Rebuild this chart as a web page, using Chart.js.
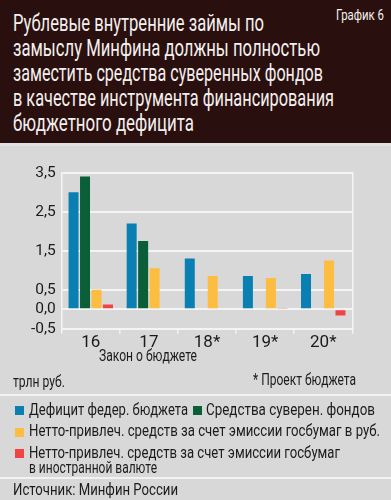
<!DOCTYPE html>
<html lang="ru">
<head>
<meta charset="utf-8">
<script src="https://cdn.jsdelivr.net/npm/chart.js@4.4.1/dist/chart.umd.min.js"></script>
<style>
  html, body { margin: 0; padding: 0; }
  body {
    width: 391px; height: 500px; position: relative; overflow: hidden;
    background: #d8d8d8;
    font-family: Roboto, 'DejaVu Sans Condensed', sans-serif;
    color: #1b1b1b;
  }
  .abs { position: absolute; }
  .txt { position: absolute; white-space: nowrap; line-height: 1; transform-origin: 0 0; }
  #head { left: 0; top: 0; width: 391px; height: 143px; background: #2a0f0f; }
  #strip { left: 0; top: 143px; width: 391px; height: 3px; background: #e2e2e2; }
  #chartBox { left: 0; top: 150px; width: 391px; height: 215px; }
  .sep { left: 0; width: 391px; height: 2px; background: #f2f2f2; }
  .sw { position: absolute; width: 9px; height: 9px; }
</style>
</head>
<body>
<div id="head" class="abs"></div>
<div id="strip" class="abs"></div>
<div id="chartBox" class="abs"><canvas id="chart"></canvas></div>
<div class="abs sep" style="top:394px"></div>
<div class="abs sep" style="top:477px"></div>

<script>
'use strict';

// Budget laws (* = draft)
const categories = ['16', '17', '18*', '19*', '20*'];
const yTicks = [-0.5, 0, 0.5, 1.5, 2.5, 3.5];

// trillion rubles
const deficit   = [3.0, 2.2, 1.3, 0.85, 0.9];
const sovereign = [3.4, 1.75, null, null, null];
const rubBonds  = [0.5, 1.05, 0.85, 0.8, 1.25];
const fxBonds   = [0.12, -0.03, -0.03, 0.02, -0.16];

const seriesNames = [
  'Дефицит федер. бюджета',
  'Средства суверен. фондов',
  'Нетто-привлеч. средств за счет эмиссии госбумаг в руб.',
  'Нетто-привлеч. средств за счет эмиссии госбумаг',
  'в иностранной валюте'
];
const titleLines = [
  'Рублевые внутренние займы по',
  'замыслу Минфина должны полностью',
  'заместить средства суверенных фондов',
  'в качестве инструмента финансирования',
  'бюджетного дефицита'
];
const colors = ['#0a80b2', '#0a5f38', '#fcbd40', '#f04444'];

const FONT = "Roboto, 'DejaVu Sans Condensed', sans-serif";
const INK = '#1b1b1b';

// text placed by left x, baseline y, font size and width it should span
function place(text, x, base, size, width, color) {
  const el = document.createElement('div');
  el.className = 'txt';
  el.textContent = text;
  el.style.fontSize = size + 'px';
  el.style.left = x + 'px';
  el.style.top = (base - 0.842 * size) + 'px';
  if (color) el.style.color = color;
  document.body.appendChild(el);
  const w = el.getBoundingClientRect().width;
  if (width && w) el.style.transform = `scaleX(${width / w})`;
  return el;
}
function swatch(i, x, y) {
  const el = document.createElement('div');
  el.className = 'sw';
  el.style.left = x + 'px';
  el.style.top = y + 'px';
  el.style.background = colors[i];
  document.body.appendChild(el);
}

const titleW = [251, 307, 310, 321, 181];
titleLines.forEach((t, i) => place(t, 12.5, 31.7 + i * 25, 24.5, titleW[i], '#f3f0ee'));
place('График 6', 336, 20.7, 14.8, 48, '#f3f0ee');

place('Закон о бюджете', 99, 361, 16, 98);
place('трлн руб.', 13, 387.3, 16, 52);
place('* Проект бюджета', 253, 385, 16, 103);

swatch(0, 15, 406); place(seriesNames[0], 29, 415.3, 17, 159);
swatch(1, 193, 406); place(seriesNames[1], 206, 415.3, 17, 169);
swatch(2, 15, 427.5); place(seriesNames[2], 29, 436.7, 17, 351);
swatch(3, 15, 449); place(seriesNames[3], 29, 458.3, 17, 311);
place(seriesNames[4], 29, 473.5, 17, 128);

place('Источник: Минфин России', 13, 495.7, 16.5, 165);

const datasets = [deficit, sovereign, rubBonds, fxBonds].map((data, i) => ({
  label: seriesNames[i],
  data,
  backgroundColor: colors[i],
  borderWidth: 0,
  barPercentage: 0.87,
  categoryPercentage: 0.79
}));

new Chart(document.getElementById('chart'), {
  type: 'bar',
  data: { labels: categories, datasets },
  options: {
    responsive: true, maintainAspectRatio: false, animation: false,
    layout: { padding: { top: 22.7, right: 38.7, left: 0, bottom: 0 } },
    plugins: { legend: { display: false }, tooltip: { enabled: false } },
    scales: {
      x: {
        grid: { offset: true, drawOnChartArea: false, drawTicks: true, tickLength: 5, color: '#f4f4f4', lineWidth: 1.5 },
        border: { color: '#f4f4f4', width: 2 },
        ticks: { color: INK, font: { family: FONT, size: 17 }, padding: -1 },
        afterFit: s => { s.height = 36.3; }
      },
      y: {
        min: -0.5, max: 3.5,
        afterBuildTicks: s => { s.ticks = yTicks.map(v => ({ value: v })); },
        grid: { color: '#f4f4f4', lineWidth: 2, drawTicks: false },
        border: { color: '#f4f4f4', width: 1.5 },
        ticks: { color: INK, font: { family: FONT, size: 15.5 }, padding: 6,
                 callback: v => v.toFixed(1).replace('.', ',') },
        afterFit: s => { s.width = 61.7; }
      },
      yRight: {
        position: 'right', min: -0.5, max: 3.5,
        grid: { drawOnChartArea: false, drawTicks: false },
        border: { color: '#f4f4f4', width: 1.5 },
        ticks: { display: false },
        afterFit: s => { s.width = 0; }
      }
    }
  }
});
</script>
</body>
</html>
